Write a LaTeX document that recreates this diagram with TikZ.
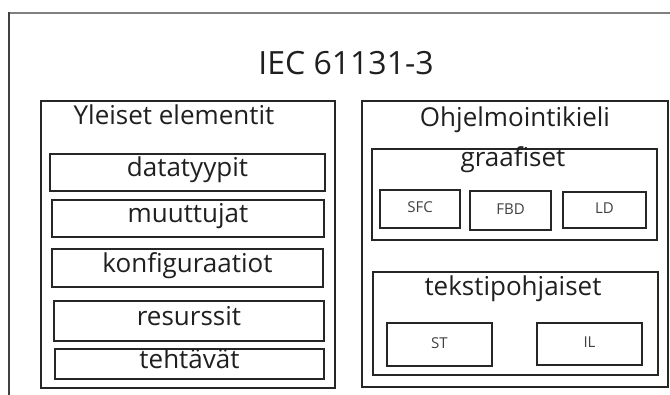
\documentclass[tikz,border=0pt]{standalone}
\usepackage{fontspec}
\setmainfont{Open Sans}
\begin{document}
\begin{tikzpicture}[x=1pt, y=-1pt,
    box/.style={rectangle, draw=black!85, line width=1.6pt, inner sep=0pt},
    item/.style={box, font=\fontsize{26}{30}\selectfont, text=black!88, text height=1.05em, text depth=0.18em},
    lang/.style={box, font=\fontsize{15}{18}\selectfont, text=black!75, text height=0.9em, text depth=0.1em},
    lbl/.style={anchor=base, inner sep=0pt, font=\fontsize{26}{30}\selectfont, text=black!88}]
   \useasboundingbox (0,0) rectangle (670,395);
   \draw[gray, line width=2pt] (680,13) -- (9,13);
   \draw[black!75, line width=1.6pt] (9,12) -- (9,410);
   \node[anchor=base, inner sep=0pt, font=\fontsize{32}{38}\selectfont, text=black!88] (title) at (346,75) {IEC 61131-3};
   \node[box, minimum width=294, minimum height=287] (yleiset) at (188,244.5) {};
   \node[box, minimum width=306, minimum height=286] (kielet) at (515,244) {};
   \node[lbl] (yleisetL) at (174,125) {Yleiset elementit};
   \node[lbl] (kieletL) at (515,127) {Ohjelmointikieli};
   \node[item, minimum width=275, minimum height=37] (datatyypit) at (187.5,172.5) {datatyypit};
   \node[item, minimum width=272, minimum height=37] (muuttujat) at (188,218.5) {muuttujat};
   \node[item, minimum width=271, minimum height=38] (konfig) at (187.5,268) {konfiguraatiot};
   \node[item, minimum width=270, minimum height=40] (resurssit) at (189,321) {resurssit};
   \node[item, minimum width=269, minimum height=30] (tehtavat) at (189.5,364) {tehtävät};
   \node[box, minimum width=285, minimum height=91] (graafiset) at (514.5,194.5) {};
   \node[lbl] (graafisetL) at (513,167) {graafiset};
   \node[lang, minimum width=80, minimum height=38] (SFC) at (420,209) {SFC};
   \node[lang, minimum width=81, minimum height=39] (FBD) at (510.5,210.5) {FBD};
   \node[lang, minimum width=83, minimum height=36] (LD) at (604.5,210) {LD};
   \node[box, minimum width=285, minimum height=103] (teksti) at (515.5,323.5) {};
   \node[lbl] (tekstiL) at (513,296) {tekstipohjaiset};
   \node[lang, minimum width=105, minimum height=43] (ST) at (439.5,344.5) {ST};
   \node[lang, minimum width=105, minimum height=42] (IL) at (589.5,344) {IL};
\end{tikzpicture}
\end{document}
